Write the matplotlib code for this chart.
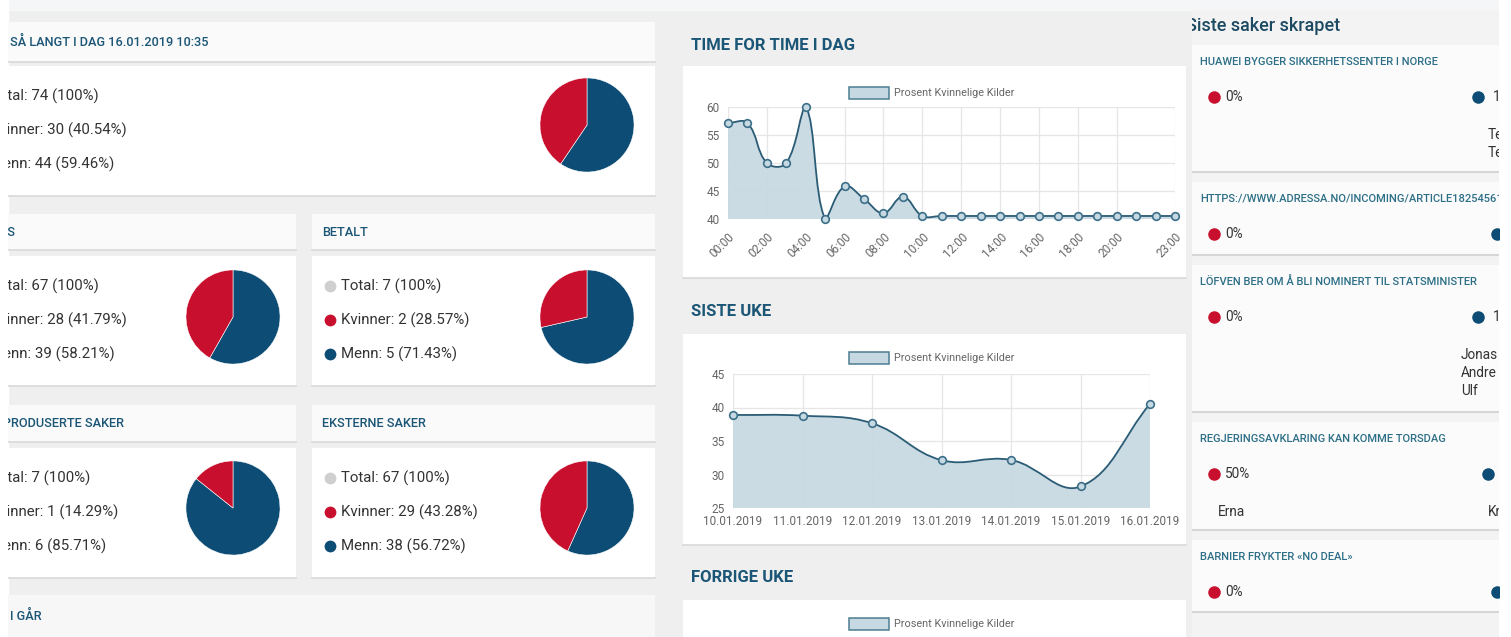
import numpy as np
import matplotlib
matplotlib.use("Agg")
import matplotlib.pyplot as plt
from matplotlib.patches import Rectangle
from matplotlib.path import Path
from matplotlib.patches import PathPatch

plt.rcParams['font.family'] = ['Roboto', 'DejaVu Sans']

# ---- data ----
card_titles = ["SÅ LANGT I DAG 16.01.2019 10:35", "GRATIS", "BETALT",
               "EGENPRODUSERTE SAKER", "EKSTERNE SAKER"]
kvinner = [30, 28, 2, 1, 29]
menn = [44, 39, 5, 6, 38]

hours = ["00:00", "01:00", "02:00", "03:00", "04:00", "05:00", "06:00", "07:00",
         "08:00", "09:00", "10:00", "11:00", "12:00", "13:00", "14:00", "15:00",
         "16:00", "17:00", "18:00", "19:00", "20:00", "21:00", "22:00", "23:00"]
hour_pct = [57.14, 57.14, 50.0, 50.0, 60.0, 40.0, 45.83, 43.59, 41.03, 44.0,
            40.54, 40.54, 40.54, 40.54, 40.54, 40.54, 40.54, 40.54, 40.54,
            40.54, 40.54, 40.54, 40.54, 40.54]
hour_ticks = [0, 2, 4, 6, 8, 10, 12, 14, 16, 18, 20, 23]

week_days = ["10.01.2019", "11.01.2019", "12.01.2019", "13.01.2019",
             "14.01.2019", "15.01.2019", "16.01.2019"]
week_pct = [38.89, 38.78, 37.65, 32.14, 32.17, 28.21, 40.54]

article_titles = ["HUAWEI BYGGER SIKKERHETSSENTER I NORGE",
                  "HTTPS://WWW.ADRESSA.NO/INCOMING/ARTICLE18254561",
                  "LÖFVEN BER OM Å BLI NOMINERT TIL STATSMINISTER",
                  "REGJERINGSAVKLARING KAN KOMME TORSDAG",
                  "BARNIER FRYKTER «NO DEAL»"]
article_women = [0, 0, 0, 50, 0]
article_men = [100, 100, 100, 50, 100]
article_women_names = [[], [], [], ["Erna"], []]
article_men_names = [["Te", "Te"], [], ["Jonas", "Andre", "Ulf"], ["Kr"], []]

RED = "#c8102e"
BLUE = "#0d4c74"
GREY_DOT = "#cfcfcf"
HEAD = "#1b5676"
TEAL = "#2d6f87"
TXT = "#333333"

W, H = 1511, 637
fig = plt.figure(figsize=(W / 100, H / 100), dpi=100)
fig.patch.set_facecolor("#efefef")


def rect(x0, y0, x1, y1):
    return [x0 / W, 1 - y1 / H, (x1 - x0) / W, (y1 - y0) / H]


def pixel_axes(x0, x1, z=1):
    a = fig.add_axes(rect(x0, 0, x1, H), zorder=z)
    a.set_xlim(x0, x1)
    a.set_ylim(H, 0)
    a.axis("off")
    a.patch.set_alpha(0)
    return a


bg = pixel_axes(0, W, z=0)
bg.add_patch(Rectangle((0, 0), W, 10, color="#f4f6f8", zorder=0))
bg.add_patch(Rectangle((0, 0), 8, H, color="white", zorder=5))
bg.add_patch(Rectangle((1499, 0), 12, H, color="white", zorder=5))

left = pixel_axes(8, 670, z=2)
right = pixel_axes(1192, 1499, z=2)


def card(a, x0, y0, x1, y1, face="white"):
    a.add_patch(Rectangle((x0, y0), x1 - x0, y1 - y0, facecolor=face,
                          edgecolor="none", zorder=1))
    a.plot([x0, x1], [y1, y1], color="#d9d9d9", lw=1.2, zorder=2)


# ---- left column: stat cards ----
cards = [
    # header band, body band, header x, pie centre
    ((-45, 22, 655, 62), (-39, 66, 655, 196), 10, (587, 125)),
    ((-45, 214, 296, 250), (-39, 256, 296, 386), -29, (233, 317)),
    ((312, 214, 655, 250), (312, 256, 655, 386), 322, (587, 317)),
    ((-45, 405, 296, 442), (-39, 448, 296, 578), -29, (233, 508)),
    ((312, 405, 655, 442), (312, 448, 655, 578), 322, (587, 508)),
]
for i, (hb, bb, tx, pc) in enumerate(cards):
    card(left, *hb, face="#fafafa")
    card(left, *bb)
    hy = (hb[1] + hb[3]) / 2
    left.text(tx, hy, card_titles[i], color=HEAD, fontsize=9.2,
              fontweight="medium", va="center", ha="left", clip_on=True, zorder=3)
    total = kvinner[i] + menn[i]
    lines = [("Total: %d (100%%)" % total, GREY_DOT),
             ("Kvinner: %d (%.2f%%)" % (kvinner[i], 100 * kvinner[i] / total), RED),
             ("Menn: %d (%.2f%%)" % (menn[i], 100 * menn[i] / total), BLUE)]
    bx = bb[0] + 18
    for j, (s, c) in enumerate(lines):
        yy = bb[1] + 30 + 34 * j
        left.plot([bx], [yy], "o", ms=8.5, color=c, mec="none", zorder=3, clip_on=True)
        left.text(bx + 11, yy, s, color=TXT, fontsize=10.8, va="center",
                  ha="left", clip_on=True, zorder=3)
    # pie
    r = 48
    pa = fig.add_axes(rect(pc[0] - r, pc[1] - r, pc[0] + r, pc[1] + r), zorder=3)
    pa.pie([menn[i], kvinner[i]], colors=[BLUE, RED], startangle=90,
           counterclock=False, radius=1.0,
           wedgeprops=dict(linewidth=0.4, edgecolor="white"))
    pa.set_xlim(-1.02, 1.02)
    pa.set_ylim(-1.02, 1.02)
    pa.set_aspect("auto")

card(left, -45, 595, 655, 650, face="#f7f7f7")
left.text(10, 616, "I GÅR", color=HEAD, fontsize=9.2, fontweight="medium",
          va="center", clip_on=True, zorder=3)


# ---- middle column: line charts ----
def chartjs_curve(ax, xs, ys, xpx, ypx, ymin, ymax):
    # Chart.js style bezier (tension 0.4), computed in pixel space
    sx = xpx / (xs[-1] - xs[0])
    sy = ypx / (ymax - ymin)
    px = np.array(xs, float) * sx
    py = np.array(ys, float) * sy
    n = len(px)
    verts = [(px[0], py[0])]
    codes = [Path.MOVETO]
    cps = []
    for k in range(n):
        p0 = (px[max(k - 1, 0)], py[max(k - 1, 0)])
        p2 = (px[min(k + 1, n - 1)], py[min(k + 1, n - 1)])
        d01 = np.hypot(px[k] - p0[0], py[k] - p0[1])
        d12 = np.hypot(p2[0] - px[k], p2[1] - py[k])
        tot = d01 + d12 if d01 + d12 > 0 else 1
        fa = 0.4 * d01 / tot
        fb = 0.4 * d12 / tot
        prev = (px[k] - fa * (p2[0] - p0[0]), py[k] - fa * (p2[1] - p0[1]))
        nxt = (px[k] + fb * (p2[0] - p0[0]), py[k] + fb * (p2[1] - p0[1]))
        lo, hi = ymin * sy, ymax * sy
        prev = (prev[0], min(max(prev[1], lo), hi))
        nxt = (nxt[0], min(max(nxt[1], lo), hi))
        cps.append((prev, nxt))
    for k in range(1, n):
        verts += [cps[k - 1][1], cps[k][0], (px[k], py[k])]
        codes += [Path.CURVE4] * 3
    verts = [(vx / sx, vy / sy) for vx, vy in verts]
    line = Path(verts, codes)
    fill_v = verts + [(xs[-1], ymin), (xs[0], ymin), (xs[0], verts[0][1])]
    fill_c = codes + [Path.LINETO, Path.LINETO, Path.LINETO]
    ax.add_patch(PathPatch(Path(fill_v, fill_c), facecolor="#c6d8e1",
                           edgecolor="none", alpha=0.9, zorder=1))
    ax.add_patch(PathPatch(line, facecolor="none", edgecolor="#2b5c76",
                           lw=1.3, zorder=3))
    ax.plot(xs, ys, "o", ms=5.5, mfc="#c6d8e1", mec="#3c6f88", mew=1.2,
            zorder=4, clip_on=False)


def style_axes(ax):
    for s in ax.spines.values():
        s.set_visible(False)
    ax.grid(True, color="#e6e6e6", lw=0.9)
    ax.set_axisbelow(True)
    ax.tick_params(length=0, labelsize=8.5, labelcolor="#666666", pad=6)
    ax.patch.set_alpha(0)


def legend(x, y):
    bg.add_patch(Rectangle((x, y - 6), 40, 12, facecolor="#c6d8e1",
                           edgecolor="#4d7f93", lw=1.1, zorder=3))
    bg.text(x + 45, y, "Prosent Kvinnelige Kilder", color="#666666",
            fontsize=7.8, va="center", zorder=3)


bg.text(691, 45, "TIME FOR TIME I DAG", color=HEAD, fontsize=12,
        fontweight="bold", va="center")
card(bg, 683, 66, 1186, 278)
legend(849, 93)
ax1 = fig.add_axes(rect(728, 107, 1175, 219), zorder=3)
style_axes(ax1)
hx = np.arange(len(hours))
chartjs_curve(ax1, hx, hour_pct, 1175 - 728, 219 - 107, 40, 60)
ax1.set_xlim(0, 23)
ax1.set_ylim(40, 60)
ax1.set_yticks([40, 45, 50, 55, 60])
ax1.set_xticks(hour_ticks)
ax1.set_xticklabels([hours[k] for k in hour_ticks], rotation=45,
                    ha="right", rotation_mode="anchor")
ax1.tick_params(axis="x", pad=8)

bg.text(691, 311, "SISTE UKE", color=HEAD, fontsize=12, fontweight="bold",
        va="center")
card(bg, 683, 334, 1186, 545)
legend(849, 358)
ax2 = fig.add_axes(rect(733, 374, 1150, 508), zorder=3)
style_axes(ax2)
wx = np.arange(len(week_days))
chartjs_curve(ax2, wx, week_pct, 1150 - 733, 508 - 374, 25, 45)
ax2.set_xlim(0, 6)
ax2.set_ylim(25, 45)
ax2.set_yticks([25, 30, 35, 40, 45])
ax2.set_xticks(wx)
ax2.set_xticklabels(week_days)
ax2.tick_params(axis="x", pad=5)

bg.text(691, 577, "FORRIGE UKE", color=HEAD, fontsize=12, fontweight="bold",
        va="center")
card(bg, 683, 600, 1186, 660)
legend(849, 624)

# ---- right column: latest articles ----
right.add_patch(Rectangle((1192, 10), 320, H, facecolor="#f3f3f3", zorder=0))
right.text(1186, 26, "Siste saker skrapet", color="#1d4a63", fontsize=13,
           fontweight="medium", va="center", clip_on=True, zorder=3)
tops = [45, 182, 265, 422, 540]
bottoms = [172, 255, 412, 530, 612]
for i, t in enumerate(article_titles):
    y0, y1 = tops[i], bottoms[i]
    right.add_patch(Rectangle((1192, y0), 320, y1 - y0, facecolor="#fbfbfb", zorder=1))
    right.plot([1192, 1499], [y1, y1], color="#d6d6d6", lw=1.5, zorder=2)
    right.text(1200, y0 + 17, t, color=TEAL, fontsize=8, fontweight="medium",
               va="center", clip_on=True, zorder=3)
    ry = y0 + 52
    right.plot([1214], [ry], "o", ms=8, color=RED, zorder=3)
    right.text(1225, ry, "%d%%" % article_women[i], color=TXT, fontsize=9.8,
               va="center", clip_on=True, zorder=3)
    bx = 1478 if i in (0, 2) else (1488 if i == 3 else 1497)
    right.plot([bx], [ry], "o", ms=8, color=BLUE, zorder=3, clip_on=True)
    right.text(bx + 15, ry, "%d%%" % article_men[i], color=TXT, fontsize=9.8,
               va="center", clip_on=True, zorder=3)
    for j, nm in enumerate(article_women_names[i]):
        right.text(1218, ry + 38 + 18 * j, nm, color=TXT, fontsize=9.8,
                   va="center", clip_on=True, zorder=3)
    nx = 1461 if i == 2 else 1488
    for j, nm in enumerate(article_men_names[i]):
        right.text(nx, ry + 38 + 18 * j, nm, color=TXT, fontsize=9.8,
                   va="center", clip_on=True, zorder=3)

fig.savefig("out.png", dpi=100, facecolor=fig.get_facecolor())
